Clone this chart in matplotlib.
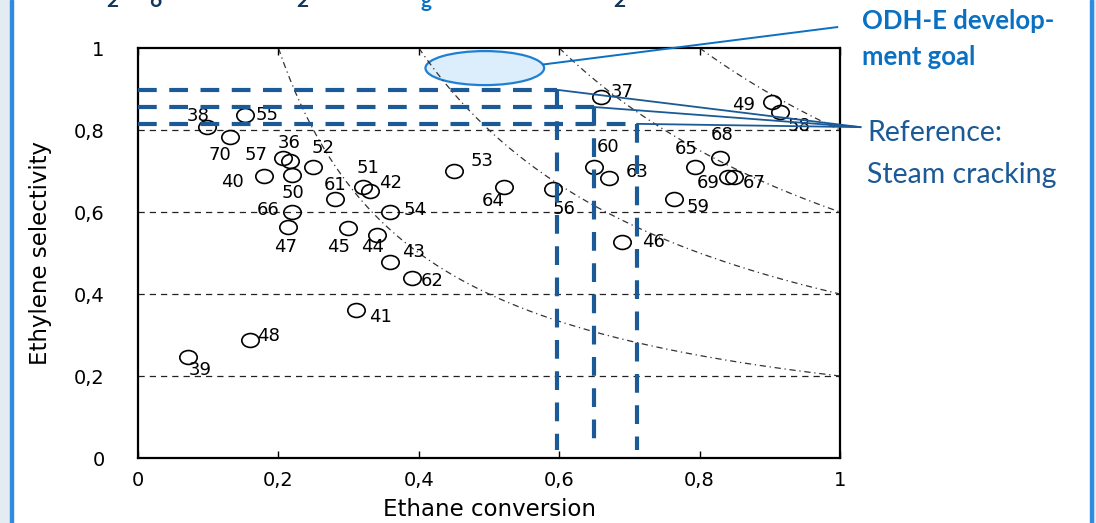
import matplotlib
matplotlib.use('Agg')
import matplotlib.pyplot as plt
import numpy as np
from matplotlib.patches import Ellipse, Rectangle
from matplotlib.path import Path
from matplotlib.ticker import FuncFormatter

# catalyst data: ethane conversion vs ethylene selectivity
ids = ['38', '55', '70', '57', '36', '52', '40', '50', '61', '51', '42', '66',
       '47', '45', '44', '54', '43', '62', '53', '64', '56', '60', '63', '46',
       '37', '49', '58', '68', '65', '69', '67', '59', '41', '48', '39']
conversion = [0.099, 0.153, 0.131, 0.207, 0.216, 0.249, 0.179, 0.220, 0.280, 0.320,
              0.330, 0.220, 0.213, 0.299, 0.340, 0.359, 0.359, 0.391, 0.450, 0.521,
              0.591, 0.650, 0.671, 0.690, 0.660, 0.903, 0.914, 0.829, 0.793, 0.841,
              0.849, 0.764, 0.310, 0.159, 0.071]
selectivity = [0.807, 0.837, 0.783, 0.732, 0.724, 0.710, 0.688, 0.690, 0.632, 0.661,
               0.651, 0.600, 0.563, 0.561, 0.544, 0.600, 0.478, 0.439, 0.700, 0.661,
               0.656, 0.710, 0.683, 0.527, 0.880, 0.868, 0.844, 0.732, 0.710, 0.685,
               0.685, 0.632, 0.361, 0.288, 0.246]

# iso-yield levels (conversion * selectivity)
yield_levels = [0.2, 0.4, 0.6, 0.8]

# steam cracking reference (selectivity level, conversion)
ref_selectivity = [0.898, 0.856, 0.815]
ref_conversion = [0.597, 0.650, 0.711]

# label offsets in pixels (dx right, dy down) from the marker
label_offsets = {
    '38': (-9, -11), '55': (22, 0), '70': (-10, 18), '57': (-27, -3), '36': (-1, -18),
    '52': (10, -19), '40': (-31, 6), '50': (0, 18), '61': (1, -14), '51': (5, -19),
    '42': (21, -8), '66': (-24, -2), '47': (-2, 20), '45': (-9, 19), '44': (-4, 12),
    '54': (25, -2), '43': (24, -10), '62': (20, 3), '53': (28, -10), '64': (-11, 14),
    '56': (11, 20), '60': (14, -20), '63': (28, -6), '46': (31, 0), '37': (21, -5),
    '49': (-28, 3), '58': (19, 14), '68': (2, -23), '65': (-8, -18), '69': (-20, 6),
    '67': (20, 6), '59': (24, 8), '41': (25, 7), '48': (19, -4), '39': (12, 13),
}

DARK_BLUE = '#1b5a96'
BRIGHT_BLUE = '#0a70c2'

plt.rcParams['font.family'] = ['DejaVu Sans']

fig = plt.figure(figsize=(10.96, 5.23), dpi=100)
W, H = 1096, 523

# slide frame on the sides
fig.patches.append(Rectangle((0, 0), 10 / W, 1, transform=fig.transFigure, color='#e3ebf3', zorder=0))
fig.patches.append(Rectangle((10 / W, 0), 2.5 / W, 1, transform=fig.transFigure, color='#2f8ae0', zorder=0))
fig.patches.append(Rectangle((1093 / W, 0), 3 / W, 1, transform=fig.transFigure, color='#e3ebf3', zorder=0))
fig.patches.append(Rectangle((1089.5 / W, 0), 3.5 / W, 1, transform=fig.transFigure, color='#2f8ae0', zorder=0))

ax = fig.add_axes([138 / W, 1 - 458 / H, 702 / W, 410 / H])
ax.set_xlim(0, 1)
ax.set_ylim(0, 1)

# horizontal grid
for g in [0.2, 0.4, 0.6, 0.8]:
    ax.axhline(g, color='#222222', lw=0.9, ls=(0, (5, 4)), zorder=1)

# iso-yield curves
for yl in yield_levels:
    xs = np.linspace(yl, 1, 200)
    ax.plot(xs, yl / xs, color='#333333', lw=0.9, ls=(0, (5, 3, 1, 3)), zorder=2)

# development goal ellipse
ax.add_patch(Ellipse((0.494, 0.951), 0.169, 0.083, facecolor='#dcedfc', edgecolor='#1f7fd2',
                     lw=1.6, zorder=1.5, clip_on=False))

# open circle marker, slightly wide
circ = Path.unit_circle()
wide_circle = Path(circ.vertices * np.array([1.25, 1.0]), circ.codes)
ax.plot(conversion, selectivity, ls='none', marker=wide_circle, ms=12.5, mfc='none',
        mec='black', mew=1.2, zorder=4)

for name, x, y in zip(ids, conversion, selectivity):
    dx, dy = label_offsets[name]
    ax.annotate(name, (x, y), xytext=(dx, -dy), textcoords='offset pixels',
                ha='center', va='center', fontsize=13, zorder=5)

# steam cracking reference lines
for s, c in zip(ref_selectivity, ref_conversion):
    ax.plot([0, c], [s, s], color=DARK_BLUE, lw=3, dashes=(4.5, 3), zorder=6,
            solid_capstyle='butt', clip_on=False)
    ax.plot([c, c], [s, 0.02], color=DARK_BLUE, lw=3, dashes=(4.5, 3), zorder=6, clip_on=False)
    ax.plot([c, 1.029], [s, 0.807], color=DARK_BLUE, lw=1.3, zorder=7, clip_on=False)

# pointer to goal text
ax.plot([0.578, 0.996], [0.96, 1.051], color=BRIGHT_BLUE, lw=1.4, zorder=7, clip_on=False)

fmt = FuncFormatter(lambda v, p: ('%g' % v).replace('.', ','))
ax.xaxis.set_major_formatter(fmt)
ax.yaxis.set_major_formatter(fmt)
ax.set_xticks([0, 0.2, 0.4, 0.6, 0.8, 1])
ax.set_yticks([0, 0.2, 0.4, 0.6, 0.8, 1])
ax.tick_params(axis='x', direction='in', top=True, length=5, width=1, labelsize=14, pad=9)
ax.tick_params(axis='y', direction='in', length=0, labelsize=14, pad=24)
for sp in ax.spines.values():
    sp.set_linewidth(1.6)

ax.set_xlabel('Ethane conversion', fontsize=16.5, labelpad=6)
ax.set_ylabel('Ethylene selectivity', fontsize=16.5, labelpad=16)

# callout texts
fig.text(862 / W, 1 - 21 / H, 'ODH-E develop-', fontsize=18.5, fontweight='bold',
         family='Lato', color=BRIGHT_BLUE, va='center', ha='left')
fig.text(862 / W, 1 - 57 / H, 'ment goal', fontsize=18.5, fontweight='bold',
         family='Lato', color=BRIGHT_BLUE, va='center', ha='left')
fig.text(867 / W, 1 - 133 / H, 'Reference:', fontsize=20.5,
         family='Lato', color=DARK_BLUE, va='center', ha='left')
fig.text(867 / W, 1 - 175 / H, 'Steam cracking', fontsize=20.5,
         family='Lato', color=DARK_BLUE, va='center', ha='left')

# cut-off title fragments at the top edge
for tx, ch, col in [(112, '2', '#12355e'), (155, '6', '#12355e'), (302, '2', '#12355e'),
                    (426, 'g', BRIGHT_BLUE), (619, '2', '#12355e')]:
    fig.text(tx / W, 1 - 7 / H, ch, fontsize=15, fontweight='bold', family='Lato',
             color=col, ha='center', va='baseline')

fig.savefig('out.png', dpi=100)
